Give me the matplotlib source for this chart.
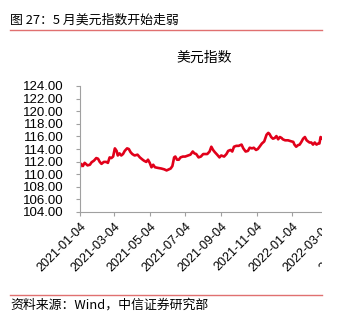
import matplotlib
matplotlib.use("Agg")
import matplotlib.pyplot as plt
from matplotlib.patches import Rectangle
from matplotlib.lines import Line2D
import pandas as pd

header = "图 27：5 月美元指数开始走弱"
chart_title = "美元指数"
source = "资料来源：Wind，中信证券研究部"

dates = ["2021-01-04", "2021-01-06", "2021-01-09", "2021-01-12", "2021-01-17", "2021-01-21",
         "2021-01-24", "2021-01-28", "2021-02-01", "2021-02-04", "2021-02-07", "2021-02-10",
         "2021-02-14", "2021-02-18", "2021-02-21", "2021-02-24", "2021-02-27", "2021-03-02",
         "2021-03-05", "2021-03-08", "2021-03-10", "2021-03-13", "2021-03-16", "2021-03-19",
         "2021-03-22", "2021-03-26", "2021-03-29", "2021-04-01", "2021-04-04", "2021-04-08",
         "2021-04-13", "2021-04-17", "2021-04-21", "2021-04-24", "2021-04-28", "2021-05-01",
         "2021-05-04", "2021-05-07", "2021-05-10", "2021-05-13", "2021-05-18", "2021-05-24",
         "2021-05-29", "2021-06-02", "2021-06-06", "2021-06-09", "2021-06-12", "2021-06-15",
         "2021-06-17", "2021-06-20", "2021-06-23", "2021-06-26", "2021-06-30", "2021-07-04",
         "2021-07-09", "2021-07-13", "2021-07-17", "2021-07-20", "2021-07-23", "2021-07-27",
         "2021-07-31", "2021-08-04", "2021-08-07", "2021-08-11", "2021-08-15", "2021-08-18",
         "2021-08-21", "2021-08-24", "2021-08-28", "2021-09-01", "2021-09-04", "2021-09-09",
         "2021-09-13", "2021-09-16", "2021-09-20", "2021-09-23", "2021-09-26", "2021-09-30",
         "2021-10-04", "2021-10-09", "2021-10-12", "2021-10-16", "2021-10-20", "2021-10-23",
         "2021-10-27", "2021-10-30", "2021-11-03", "2021-11-06", "2021-11-09", "2021-11-13",
         "2021-11-17", "2021-11-21", "2021-11-24", "2021-11-26", "2021-11-29", "2021-12-02",
         "2021-12-05", "2021-12-08", "2021-12-11", "2021-12-14", "2021-12-17", "2021-12-19",
         "2021-12-23", "2021-12-28", "2022-01-02", "2022-01-06", "2022-01-08", "2022-01-11",
         "2022-01-14", "2022-01-17", "2022-01-20", "2022-01-23", "2022-01-26", "2022-01-29",
         "2022-01-31", "2022-02-03", "2022-02-06", "2022-02-09", "2022-02-12", "2022-02-15",
         "2022-02-18", "2022-02-20", "2022-02-22", "2022-02-25"]

usd_index = [111.13, 111.64, 111.30, 111.80, 111.40, 111.50, 111.90, 112.15, 112.56, 112.46,
             111.95, 111.64, 111.95, 111.95, 111.80, 112.67, 112.56, 112.80, 114.10, 113.70,
             112.97, 113.30, 112.97, 113.20, 113.70, 114.10, 114.00, 113.50, 113.20, 112.97,
             113.10, 112.67, 112.36, 112.15, 111.95, 112.30, 111.80, 111.10, 111.50, 111.10,
             111.00, 110.90, 110.77, 110.60, 110.77, 110.90, 111.30, 112.67, 112.80, 112.30,
             112.30, 112.67, 112.80, 112.80, 112.97, 113.10, 113.60, 113.30, 113.20, 112.67,
             112.80, 113.20, 113.20, 113.20, 113.60, 114.36, 113.85, 113.50, 113.10, 112.67,
             112.97, 112.80, 113.20, 113.70, 113.85, 113.60, 114.36, 114.50, 114.50, 114.70,
             114.10, 113.60, 113.70, 114.20, 114.10, 114.20, 113.85, 114.00, 114.36, 114.87,
             115.20, 116.26, 116.56, 116.40, 115.90, 115.64, 115.74, 116.05, 115.54, 115.90,
             115.74, 115.54, 115.38, 115.38, 115.23, 115.13, 114.70, 114.36, 114.60, 114.70,
             115.13, 115.64, 115.90, 115.38, 115.23, 115.03, 115.03, 114.70, 115.03, 114.70,
             114.87, 114.87, 115.90, 115.64]

x_ticks = ["2021-01-04", "2021-03-04", "2021-05-04", "2021-07-04", "2021-09-04",
           "2021-11-04", "2022-01-04", "2022-03-04", "2022-05-04"]
y_ticks = [104, 106, 108, 110, 112, 114, 116, 118, 120, 122, 124]

W, H = 341, 319
fig = plt.figure(figsize=(W / 100, H / 100), dpi=100)
cjk = ["Noto Sans CJK SC", "DejaVu Sans"]

ax = fig.add_axes([80 / W, 1 - 212 / H, 283 / W, (212 - 86) / H])
ax.plot(pd.to_datetime(dates), usd_index, color="#E1001A", lw=1.9, solid_joinstyle="round")
ax.set_xlim(pd.Timestamp("2021-01-04"), pd.Timestamp("2022-05-06"))
ax.set_ylim(104, 124)
ax.set_yticks(y_ticks)
ax.set_yticklabels([f"{v:.2f}" for v in y_ticks])
ax.set_xticks(pd.to_datetime(x_ticks))
ax.set_xticklabels(x_ticks)
for s in ["top", "right"]:
    ax.spines[s].set_visible(False)
for s in ["left", "bottom"]:
    ax.spines[s].set_color("#A0A0A0")
    ax.spines[s].set_linewidth(0.8)
ax.tick_params(axis="y", direction="out", length=3, width=0.8, color="#A0A0A0", pad=9,
               labelsize=9.5)
ax.tick_params(axis="x", direction="out", length=3, width=0.8, color="#A0A0A0", pad=3,
               labelsize=9)
for lab in ax.get_yticklabels() + ax.get_xticklabels():
    lab.set_fontfamily("Liberation Sans")
for lab in ax.get_xticklabels():
    lab.set_rotation(45)
    lab.set_ha("right")
    lab.set_va("top")
    lab.set_rotation_mode("anchor")

fig.text(10 / W, 1 - 20 / H, header, fontsize=9.3, family=cjk, va="center", ha="left")
fig.text(204 / W, 1 - 58 / H, chart_title, fontsize=10, family=cjk, va="center", ha="center")
fig.text(10 / W, 1 - 305 / H, source, fontsize=9.3, family=cjk, va="center", ha="left")

fig.add_artist(Rectangle((322 / W, 0), 1, 1, transform=fig.transFigure,
                         facecolor="white", edgecolor="none", zorder=10))
for yy in (30, 295):
    fig.add_artist(Line2D([10 / W, 322 / W], [1 - yy / H, 1 - yy / H], transform=fig.transFigure,
                          color="#E07070", lw=1.0, zorder=11))

fig.savefig("out.png", dpi=100)
